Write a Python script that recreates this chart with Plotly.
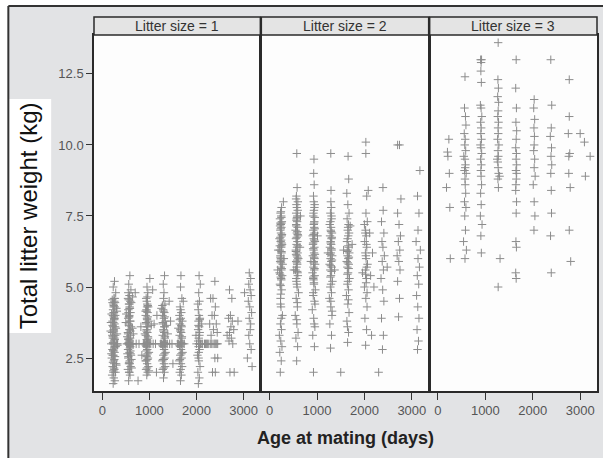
import plotly.graph_objects as go

# ---------------- data (age at mating in days, total litter weight in kg) ----------------
panel_titles = ["Litter size = 1", "Litter size = 2", "Litter size = 3"]
x_tick_values = [0, 1000, 2000, 3000]
x_tick_labels = ["0", "1000", "2000", "3000"]
y_tick_values = [2.5, 5.0, 7.5, 10.0, 12.5]
y_tick_labels = ["2.5", "5.0", "7.5", "10.0", "12.5"]

age_1 = [
    232, 268, 245, 210, 281, 236, 258, 221, 295, 247,
    203, 270, 239, 262, 215, 288, 190, 240, 305, 326,
    251, 226, 274, 209, 242, 290, 232, 262, 218, 251,
    276, 199, 243, 229, 265, 238, 256, 212, 247, 286,
    233, 260, 300, 195, 312, 185, 300, 322, 178, 310,
    255, 228, 249, 237, 266, 219, 244, 271, 226, 253,
    238, 252, 222, 266, 244, 230, 259, 214, 248, 272,
    236, 261, 227, 250, 242, 218, 268, 234, 256, 245,
    560, 590, 575, 545, 602, 568, 585, 552, 610, 578,
    548, 595, 565, 583, 540, 606, 520, 575, 630, 655,
    572, 558, 598, 545, 580, 612, 562, 590, 550, 575,
    600, 555, 582, 568, 593, 547, 578, 608, 563, 586,
    620, 530, 640, 510, 625, 500, 615, 660, 535, 645,
    570, 586, 553, 597, 566, 580, 720, 780, 820, 700,
    760, 840,
    570, 585, 556, 598, 575, 562, 590, 549, 580, 566,
    595, 572, 558, 587, 577, 563, 600, 570, 582, 553,
    945, 965, 930, 980, 952, 920, 970, 940, 990, 955,
    935, 960, 900, 1000, 1030, 880, 948, 972, 925, 958,
    942, 968, 930, 985, 950, 922, 962, 938, 975, 955,
    945, 932, 968, 950, 1010, 905, 1040, 960, 920, 990,
    952, 938, 966, 944, 1080, 1130, 1100, 1150, 1070, 1160,
    950, 935, 962, 925, 948, 970, 940, 958, 930, 965,
    945, 952, 928, 975, 942, 960,
    1300, 1320, 1285, 1335, 1310, 1275, 1325, 1295, 1345, 1312,
    1290, 1318, 1260, 1350, 1380, 1240, 1305, 1328, 1282, 1315,
    1298, 1325, 1288, 1340, 1308, 1278, 1318, 1292, 1330, 1302,
    1310, 1295, 1322, 1365, 1255, 1390, 1305, 1430, 1480, 1450,
    1500, 1420,
    1305, 1290, 1320, 1280, 1312, 1330, 1298, 1316, 1285, 1325,
    1302, 1310, 1338, 1276,
    1660, 1680, 1645, 1695, 1670, 1635, 1685, 1655, 1705, 1672,
    1650, 1678, 1620, 1710, 1740, 1600, 1665, 1688, 1642, 1675,
    1658, 1685, 1648, 1700, 1668, 1638, 1678, 1652, 1690, 1662,
    1670, 1720, 1615,
    1665, 1650, 1680, 1642, 1672, 1690, 1658, 1676, 1648, 1685,
    1662,
    2040, 2060, 2030, 2075, 2050, 2020, 2065, 2045, 2085, 2055,
    2100, 2130, 2000, 2048, 2068, 2035, 2058, 2042, 2072, 2052,
    2038, 2062, 2048, 2080, 2055, 2110, 1990, 2045,
    2048, 2035, 2062, 2042, 2070, 2055, 2028,
    2170, 2210, 2250, 2290, 2330, 2370, 2410, 2450, 2190, 2230,
    2310, 2390, 2430,
    2300, 2350, 2400, 2330, 2380, 2420, 2360, 2440, 2310, 2390,
    2450, 2340, 2280, 2400, 2390,
    2700, 2750, 2720, 2680, 2760, 2730, 2700, 2790, 2740, 2650,
    2770, 2710, 2800, 2690,
    3120, 3150, 3110, 3140, 3160, 3100, 3130, 3170, 3120, 3150,
    3140, 3110, 3130, 3160, 3080, 3180, 3020, 2880,
]
weight_1 = [
    1.6, 1.7, 1.8, 1.9, 2.0, 2.05, 2.1, 2.2, 2.3, 2.4,
    2.5, 2.55, 2.6, 2.7, 2.8, 2.9, 3.0, 3.0, 3.0, 3.0,
    3.1, 3.2, 3.3, 3.4, 3.5, 3.55, 3.6, 3.7, 3.8, 3.9,
    4.0, 4.05, 4.1, 4.2, 4.3, 4.4, 4.5, 4.55, 4.6, 4.8,
    5.0, 5.2, 2.25, 2.65, 3.35, 3.75, 4.25, 2.95, 3.45, 4.15,
    3.85, 2.35, 2.15, 2.75, 3.15, 3.65, 4.35, 4.45, 3.25, 2.85,
    2.0, 2.3, 2.6, 2.9, 3.0, 3.05, 3.2, 3.3, 3.45, 3.6,
    3.75, 3.9, 4.0, 4.1, 4.3, 4.45, 4.6, 2.75, 2.45, 3.95,
    1.7, 1.9, 2.0, 2.1, 2.2, 2.3, 2.4, 2.5, 2.6, 2.7,
    2.8, 2.9, 3.0, 3.0, 3.0, 3.0, 3.0, 3.0, 3.0, 3.0,
    3.1, 3.2, 3.3, 3.4, 3.5, 3.6, 3.7, 3.8, 3.9, 4.0,
    4.1, 4.2, 4.3, 4.4, 4.5, 4.6, 4.7, 4.9, 5.1, 5.4,
    2.45, 3.25, 3.55, 4.05, 2.15, 3.75, 4.45, 3.35, 2.65, 4.65,
    2.35, 2.85, 3.15, 3.45, 3.95, 4.25, 3.0, 3.0, 3.6, 4.8,
    1.7, 2.6,
    2.0, 2.3, 2.55, 2.75, 2.95, 3.05, 3.2, 3.35, 3.5, 3.65,
    3.8, 3.95, 4.1, 4.25, 4.4, 4.55, 2.65, 3.0, 3.0, 4.8,
    1.9, 2.0, 2.1, 2.2, 2.3, 2.4, 2.5, 2.6, 2.7, 2.8,
    2.9, 3.0, 3.0, 3.0, 3.0, 3.0, 3.1, 3.2, 3.3, 3.4,
    3.5, 3.6, 3.7, 3.8, 3.9, 4.0, 4.1, 4.2, 4.3, 4.4,
    4.5, 4.6, 4.8, 5.0, 5.3, 3.35, 3.65, 2.45, 4.15, 2.05,
    3.85, 2.75, 4.35, 3.15, 3.0, 3.0, 3.7, 2.0, 4.9, 4.0,
    2.15, 2.4, 2.65, 2.95, 3.05, 3.25, 3.45, 3.6, 3.75, 3.95,
    4.15, 4.3, 3.0, 3.0, 2.55, 4.65,
    1.8, 2.0, 2.1, 2.2, 2.3, 2.4, 2.5, 2.6, 2.7, 2.8,
    2.9, 3.0, 3.0, 3.0, 3.0, 3.0, 3.1, 3.2, 3.3, 3.4,
    3.5, 3.6, 3.7, 3.8, 3.9, 4.0, 4.1, 4.2, 4.4, 4.6,
    4.8, 5.1, 5.4, 3.65, 4.25, 3.35, 2.45, 3.0, 3.0, 3.8,
    2.3, 4.5,
    2.15, 2.45, 2.65, 2.95, 3.05, 3.25, 3.45, 3.6, 3.75, 3.95,
    4.15, 3.0, 3.0, 4.35,
    1.7, 1.9, 2.0, 2.2, 2.3, 2.4, 2.5, 2.6, 2.7, 2.8,
    2.9, 3.0, 3.0, 3.0, 3.0, 3.0, 3.1, 3.2, 3.3, 3.4,
    3.5, 3.6, 3.7, 3.8, 3.9, 4.0, 4.1, 4.3, 4.6, 5.0,
    5.4, 4.5, 3.55,
    2.1, 2.45, 2.65, 2.95, 3.05, 3.25, 3.45, 3.65, 3.85, 3.0,
    4.2,
    1.6, 1.8, 2.0, 2.2, 2.4, 2.6, 2.8, 2.9, 3.0, 3.0,
    3.0, 3.0, 3.0, 3.2, 3.4, 3.5, 3.6, 3.8, 3.9, 4.0,
    4.2, 4.5, 4.8, 5.1, 5.4, 3.7, 3.3, 2.5,
    2.7, 3.1, 3.3, 3.65, 3.85, 3.0, 4.4,
    3.0, 3.0, 3.0, 3.0, 3.0, 3.0, 3.0, 3.0, 3.0, 3.0,
    3.0, 3.0, 3.0,
    4.6, 4.6, 4.3, 4.0, 4.0, 3.7, 3.5, 3.4, 3.3, 2.5,
    2.5, 2.0, 3.7, 2.0, 5.2,
    4.9, 4.6, 4.0, 3.9, 3.8, 3.6, 3.4, 3.5, 3.2, 3.3,
    3.0, 2.0, 2.0, 3.1,
    5.5, 5.3, 5.1, 4.9, 4.7, 4.5, 4.3, 4.1, 3.9, 3.7,
    3.5, 3.3, 3.0, 2.8, 2.5, 2.2, 4.8, 3.8,
]

age_2 = [
    225, 245, 215, 260, 235, 205, 250, 228, 270, 240,
    230, 255, 218, 242, 265, 210, 248, 236, 275, 222,
    238, 228, 252, 215, 244, 262, 232, 208, 256, 240,
    226, 248, 236, 258, 218, 244, 230, 252, 290, 180,
    300, 170, 234, 246, 226, 250,
    232, 246, 222, 255, 238, 228, 250, 215, 242, 260,
    235, 226, 248, 238, 220, 252, 240, 230, 244, 236,
    570, 590, 555, 600, 575, 540, 585, 560, 610, 580,
    565, 595, 548, 582, 560, 605, 572, 590, 553, 578,
    568, 586, 556, 598, 574, 548, 590, 562, 580, 570,
    584, 560, 575, 595, 565, 580, 573, 640, 510, 650,
    582, 558, 592, 566,
    575, 562, 590, 568, 582, 555, 595, 572, 586, 560,
    578, 592, 566, 584, 570, 558, 588, 576,
    925, 945, 910, 955, 930, 900, 945, 920, 965, 935,
    920, 950, 905, 940, 925, 960, 932, 948, 912, 938,
    928, 945, 915, 955, 930, 908, 948, 922, 940, 932,
    942, 920, 935, 950, 925, 940, 930, 935, 870, 1010,
    938, 918, 952, 927,
    935, 922, 948, 930, 955, 918, 942, 928, 952, 938,
    925, 945, 932, 958, 920, 940,
    1285, 1305, 1270, 1315, 1290, 1260, 1305, 1280, 1325, 1295,
    1280, 1310, 1265, 1300, 1285, 1320, 1292, 1308, 1272, 1298,
    1288, 1305, 1275, 1315, 1290, 1268, 1308, 1282, 1300, 1292,
    1295, 1290, 1230, 1370, 1296,
    1295, 1282, 1308, 1290, 1315, 1278, 1302, 1288, 1312, 1296,
    1284, 1305, 1292, 1318,
    1645, 1665, 1630, 1675, 1650, 1620, 1665, 1640, 1685, 1655,
    1640, 1670, 1625, 1660, 1645, 1680, 1652, 1668, 1632, 1658,
    1648, 1665, 1635, 1675, 1650, 1628, 1668, 1655, 1500, 1740,
    1560, 1700,
    1652, 1640, 1668, 1648, 1672, 1636, 1660, 1645, 1675, 1655,
    1662, 1642,
    2025, 2045, 2010, 2055, 2030, 2000, 2045, 2020, 2065, 2035,
    2020, 2050, 2005, 2040, 2025, 2060, 2032, 2048, 2030, 2030,
    2110, 1960, 2080, 2000, 2130, 2170, 2200, 2150,
    2035, 2022, 2048, 2030, 2042, 2018, 2055,
    2380, 2400, 2360, 2410, 2385, 2350, 2400, 2375, 2420, 2390,
    2370, 2410, 2360, 2395, 2300, 2480, 2390,
    2720, 2740, 2700, 2750, 2725, 2690, 2745, 2715, 2760, 2730,
    2700, 2770, 2700, 2740,
    3120, 3140, 3110, 3150, 3125, 3100, 3145, 3115, 3160, 3130,
    3180, 3090, 3130, 3150, 3120, 3170,
]
weight_2 = [
    2.0, 2.4, 2.7, 2.9, 3.1, 3.3, 3.5, 3.7, 4.0, 4.3,
    4.6, 4.9, 5.1, 5.3, 5.4, 5.5, 5.6, 5.7, 5.8, 5.9,
    6.0, 6.1, 6.2, 6.3, 6.4, 6.5, 6.6, 6.7, 6.8, 6.9,
    7.0, 7.1, 7.2, 7.3, 7.4, 7.5, 7.6, 7.8, 8.0, 6.3,
    6.0, 5.6, 5.35, 6.45, 6.75, 7.25,
    5.05, 5.25, 5.45, 5.65, 5.85, 6.05, 6.25, 6.45, 6.65, 6.85,
    7.05, 7.25, 7.45, 7.65, 7.15, 6.55, 5.95, 4.4, 3.9, 4.75,
    2.4, 2.9, 3.2, 3.4, 3.7, 4.0, 4.3, 4.6, 4.8, 5.0,
    5.2, 5.4, 5.6, 5.8, 5.9, 6.0, 6.1, 6.2, 6.3, 6.4,
    6.5, 6.6, 6.7, 6.8, 6.9, 7.0, 7.1, 7.2, 7.3, 7.4,
    7.5, 7.6, 7.8, 8.0, 8.2, 8.5, 9.7, 6.4, 5.6, 7.5,
    5.55, 6.15, 6.85, 7.35,
    5.1, 5.3, 5.5, 5.7, 5.95, 6.25, 6.45, 6.75, 6.95, 7.15,
    7.45, 7.7, 7.9, 4.45, 3.85, 8.1, 6.05, 5.85,
    2.0, 2.9, 3.3, 3.6, 3.9, 4.2, 4.5, 4.7, 4.9, 5.1,
    5.3, 5.4, 5.5, 5.6, 5.7, 5.8, 5.9, 6.0, 6.1, 6.2,
    6.3, 6.4, 6.5, 6.6, 6.7, 6.8, 6.9, 7.0, 7.1, 7.2,
    7.3, 7.5, 7.7, 7.9, 8.2, 8.6, 9.0, 9.5, 5.9, 6.8,
    6.05, 6.55, 7.45, 5.25,
    5.15, 5.35, 5.65, 5.85, 6.15, 6.35, 6.65, 6.85, 7.05, 7.25,
    7.6, 7.8, 8.0, 4.4, 4.8, 3.7,
    2.85, 3.3, 3.7, 4.0, 4.3, 4.6, 4.8, 5.0, 5.2, 5.4,
    5.6, 5.7, 5.8, 5.9, 6.0, 6.1, 6.2, 6.3, 6.4, 6.5,
    6.6, 6.7, 6.8, 6.9, 7.0, 7.2, 7.4, 7.6, 7.8, 8.0,
    8.4, 9.7, 6.2, 5.6, 7.1,
    5.1, 5.35, 5.55, 5.75, 5.95, 6.15, 6.35, 6.55, 6.75, 6.95,
    7.3, 7.5, 4.5, 4.15,
    3.05, 3.4, 3.8, 4.1, 4.4, 4.7, 4.9, 5.1, 5.3, 5.5,
    5.7, 5.8, 5.9, 6.0, 6.1, 6.2, 6.3, 6.4, 6.6, 6.8,
    7.0, 7.2, 7.4, 7.6, 7.9, 8.3, 8.8, 9.6, 2.0, 6.5,
    6.3, 7.15,
    5.2, 5.45, 5.65, 5.85, 6.05, 6.25, 6.45, 6.7, 6.9, 7.1,
    4.55, 3.6,
    2.95, 3.5, 3.9, 4.3, 4.6, 5.0, 5.3, 5.6, 5.8, 6.0,
    6.2, 6.4, 6.6, 6.8, 7.0, 7.3, 7.6, 8.2, 9.7, 10.1,
    6.9, 5.5, 8.4, 7.2, 5.4, 6.2, 5.0, 3.3,
    5.15, 5.45, 5.7, 6.1, 6.5, 6.9, 4.8,
    2.8, 3.3, 3.9, 4.5, 4.9, 5.3, 5.6, 5.9, 6.1, 6.4,
    6.6, 6.9, 7.3, 7.7, 2.0, 5.7, 8.5,
    3.95, 4.6, 5.2, 5.6, 5.9, 6.1, 6.3, 6.6, 6.8, 7.2,
    7.6, 8.1, 10.0, 10.0,
    2.8, 3.1, 3.5, 3.9, 4.3, 4.7, 5.1, 5.4, 5.7, 6.0,
    6.3, 6.6, 7.0, 7.6, 8.2, 9.1,
]

age_3 = [
    230, 200, 240, 180, 250, 260, 210,
    570, 560, 580, 590, 555, 575, 565, 585, 545, 570,
    580, 560, 595, 570, 575, 585, 560, 590, 565, 580,
    540, 600, 570, 575,
    900, 920, 905, 915, 895, 910, 925, 900, 912, 905,
    918, 895, 908, 922, 900, 915, 905, 910, 920, 900,
    912, 895, 930, 905, 915, 910,
    1270, 1265, 1275, 1260, 1280, 1270, 1262, 1278, 1268, 1272,
    1258, 1285, 1266, 1274, 1262, 1270, 1280, 1265, 1275, 1250,
    1310, 1270, 1300,
    1650, 1640, 1655, 1645, 1660, 1650, 1640, 1655, 1648, 1660,
    1645, 1652, 1640, 1658, 1650, 1645, 1655, 1640, 1650, 1660,
    1645,
    2030, 2020, 2040, 2025, 2035, 2030, 2020, 2040, 2030, 2050,
    2010, 2030, 2045, 2025,
    2380, 2400, 2390, 2370, 2395, 2385, 2400, 2380, 2390, 2395,
    2375, 2390,
    2770, 2770, 2750, 2780, 2760, 2790, 2770, 2800, 2760,
    3090, 3210, 3110, 3000,
]
weight_3 = [
    10.2, 9.75, 9.0, 8.5, 7.8, 6.0, 9.6,
    12.4, 11.3, 11.0, 10.7, 10.4, 10.2, 10.0, 9.8, 9.6, 9.5,
    9.3, 9.1, 9.0, 8.8, 8.6, 8.3, 8.0, 7.8, 7.5, 7.0,
    6.6, 6.3, 6.0, 9.2,
    13.0, 13.0, 12.6, 12.2, 11.4, 11.3, 11.0, 10.8, 10.6, 10.4,
    10.2, 10.0, 9.9, 9.7, 9.5, 9.3, 9.1, 8.9, 8.6, 8.3,
    7.9, 7.5, 7.2, 6.8, 6.2, 12.9,
    13.6, 12.3, 12.0, 11.7, 11.5, 11.2, 11.0, 10.8, 10.6, 10.4,
    10.2, 10.0, 9.8, 9.6, 9.4, 9.2, 9.0, 8.8, 8.5, 9.5,
    6.0, 5.0, 8.9,
    13.0, 12.0, 11.3, 10.8, 10.5, 10.2, 9.9, 9.7, 9.5, 9.3,
    9.1, 8.8, 8.4, 8.0, 7.6, 6.6, 6.4, 5.5, 5.3, 9.0,
    8.6,
    11.6, 11.3, 10.9, 10.6, 10.3, 10.0, 9.8, 9.5, 9.2, 8.9,
    8.6, 8.0, 7.5, 7.0,
    13.0, 11.4, 10.6, 10.3, 9.9, 9.6, 9.3, 9.0, 8.4, 7.6,
    6.8, 5.5,
    12.3, 11.0, 10.4, 9.7, 9.0, 8.5, 7.0, 5.9, 9.6,
    10.1, 9.6, 8.9, 10.4,
]

ages = [age_1, age_2, age_3]
weights = [weight_1, weight_2, weight_3]

# ---------------- layout geometry ----------------
W, H = 603, 458
ML, MR, MT, MB = 94, 4, 35, 67
PW = W - ML - MR          # 505
PH = H - MT - MB          # 356


def px_x(p):
    return (p - ML) / PW


def px_y(p):
    return (H - MB - p) / PH


domains = [[px_x(94), px_x(261)], [px_x(262), px_x(430)], [px_x(431), px_x(599)]]
x_range = [-175, 3355]
y_range = [1.34, 13.87]

FONT = "Liberation Sans, Arial, Helvetica, sans-serif"
MARK = "#8c8c8c"
EDGE = "#2a2a2a"

fig = go.Figure()
for i in range(3):
    sfx = "" if i == 0 else str(i + 1)
    fig.add_trace(go.Scatter(
        x=ages[i], y=weights[i], mode="markers",
        xaxis="x" + sfx, yaxis="y" + sfx,
        marker=dict(symbol="cross-thin", size=6, color=MARK,
                    line=dict(color=MARK, width=1)),
        showlegend=False, hoverinfo="x+y",
    ))

layout = dict(
    width=W, height=H,
    margin=dict(l=ML, r=MR, t=MT, b=MB, pad=0),
    paper_bgcolor="#e2e3e5", plot_bgcolor="#fdfdfd",
    font=dict(family=FONT, size=13, color="#555555"),
    showlegend=False,
)
for i in range(3):
    sfx = "" if i == 0 else str(i + 1)
    layout["xaxis" + sfx] = dict(
        domain=domains[i], range=x_range, anchor="y" + sfx,
        tickmode="array", tickvals=x_tick_values, ticktext=x_tick_labels,
        ticks="outside", ticklen=7, tickwidth=1, tickcolor="#333333",
        showgrid=False, zeroline=False,
        showline=True, mirror=True, linecolor=EDGE, linewidth=1.5,
        tickfont=dict(family=FONT, size=13, color="#555555"),
    )
    layout["yaxis" + sfx] = dict(
        domain=[0, 1], range=y_range, anchor="x" + sfx,
        tickmode="array", tickvals=y_tick_values, ticktext=y_tick_labels,
        ticks="outside" if i == 0 else "", ticklen=6, tickwidth=1, tickcolor="#333333",
        showticklabels=(i == 0),
        showgrid=False, zeroline=False,
        showline=True, mirror=True, linecolor=EDGE, linewidth=1.5,
        tickfont=dict(family=FONT, size=13, color="#555555"),
    )
fig.update_layout(**layout)

shapes = []
# white margins outside the grey frame (top and left)
shapes.append(dict(type="rect", xref="paper", yref="paper", x0=-1, x1=2,
                   y0=px_y(6), y1=px_y(-20), fillcolor="white", line=dict(width=0), layer="below"))
shapes.append(dict(type="rect", xref="paper", yref="paper", x0=px_x(-20), x1=px_x(8),
                   y0=px_y(480), y1=px_y(-20), fillcolor="white", line=dict(width=0), layer="below"))
# frame lines
shapes.append(dict(type="line", xref="paper", yref="paper", x0=px_x(8), x1=px_x(620),
                   y0=px_y(6), y1=px_y(6), line=dict(color="#333333", width=2)))
shapes.append(dict(type="line", xref="paper", yref="paper", x0=px_x(8), x1=px_x(8),
                   y0=px_y(6), y1=px_y(480), line=dict(color="#333333", width=2)))
# white box behind y title
shapes.append(dict(type="rect", xref="paper", yref="paper", x0=px_x(8), x1=px_x(51),
                   y0=px_y(333), y1=px_y(99), fillcolor="white", line=dict(width=0), layer="below"))
# strip headers
annotations = []
for i in range(3):
    shapes.append(dict(type="rect", xref="paper", yref="paper",
                       x0=domains[i][0], x1=domains[i][1], y0=1.0, y1=px_y(17),
                       fillcolor="#e4e4e4", line=dict(color=EDGE, width=1.5)))
    annotations.append(dict(text=panel_titles[i], xref="paper", yref="paper",
                            x=(domains[i][0] + domains[i][1]) / 2, y=(1.0 + px_y(17)) / 2,
                            xanchor="center", yanchor="middle", showarrow=False,
                            font=dict(family=FONT, size=14, color="#333333")))
annotations.append(dict(text="Total litter weight (kg)", xref="paper", yref="paper",
                        x=px_x(28), y=px_y(216), textangle=-90, showarrow=False,
                        xanchor="center", yanchor="middle",
                        font=dict(family=FONT, size=24, color="#111111")))
annotations.append(dict(text="<b>Age at mating (days)</b>", xref="paper", yref="paper",
                        x=px_x(346), y=px_y(438), showarrow=False,
                        xanchor="center", yanchor="middle",
                        font=dict(family=FONT, size=18, color="#222222")))
fig.update_layout(shapes=shapes, annotations=annotations)

fig.write_html("out.html", config={"displayModeBar": False},
               post_script="document.body.style.margin='0';document.body.style.padding='0';")
